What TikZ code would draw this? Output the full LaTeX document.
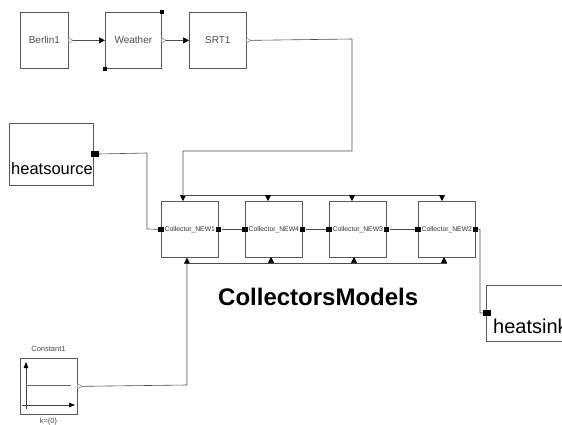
\documentclass[tikz,border=0pt]{standalone}
\usepackage{fontspec}
\setmainfont{Liberation Sans}
\usetikzlibrary{arrows.meta,calc}
\begin{document}
\begin{tikzpicture}[x=1pt,y=-1pt,
  blk/.style={draw=black!65,line width=0.7pt,fill=white,inner sep=0pt,anchor=north west},
  wire/.style={draw=black!70,line width=0.6pt},
  sig/.style={wire,-{Triangle[length=6pt,width=6pt,color=black]}},
  sq/.style={fill=black,minimum width=5.5pt,minimum height=5.5pt,inner sep=0pt},
  bigsq/.style={fill=black,minimum width=8pt,minimum height=6pt,inner sep=0pt},
  outp/.style={draw=black!60,fill=white,line width=0.4pt},
  lbl/.style={font=\fontsize{10}{11}\selectfont,text=black!70},
  clbl/.style={font=\fontsize{6.8}{7}\selectfont,text=black!80,inner sep=0pt},
  axis/.style={draw=black!75,line width=0.5pt,-{Triangle[length=6pt,width=4.5pt,color=black]}}]
\useasboundingbox (0,0) rectangle (562,425);
% top row
\node[blk,minimum width=48pt,minimum height=56pt] (berlin) at (20,12) {};
\node[lbl] at (berlin.center) {Berlin1};
\node[blk,minimum width=56pt,minimum height=56pt] (weather) at (105,12) {};
\node[lbl] at (weather.center) {Weather};
\node[sq,minimum width=4pt,minimum height=4pt] (wtr) at (weather.north east) {};
\node[sq,minimum width=4pt,minimum height=4pt] (wbl) at (weather.south west) {};
\node[blk,minimum width=57pt,minimum height=56pt] (srt) at (189,12) {};
\node[lbl] at (srt.center) {SRT1};
\foreach \n in {berlin,weather,srt}{
  \draw[outp] (\n.east) ++(0,-2.5) -- ++(4,2.5) -- ++(-4,2.5) -- cycle;
  \coordinate (\n-o) at ($(\n.east)+(4,0)$);
}
\draw[sig] (berlin-o) -- (weather.west);
\draw[sig] (weather-o) -- (srt.west);
% heatsource
\node[blk,minimum width=84pt,minimum height=62pt] (hs) at (9,123) {};
\node[anchor=base west,inner sep=0pt,font=\fontsize{16.5}{18}\selectfont] at (11,175) {heatsource};
\node[bigsq] (hsp) at (95,154) {};
% collectors
\foreach \n/\x/\t in {c1/161/Collector\_NEW1,c4/245/Collector\_NEW4,c3/329/Collector\_NEW3,c2/418/Collector\_NEW2}{
  \node[blk,minimum width=57pt,minimum height=56pt] (\n) at (\x,201) {};
  \node[clbl] at (\n.center) {\t};
  \node[sq] (\n-l) at (\n.west) {};
  \node[sq] (\n-r) at (\n.east) {};
}
\draw[wire] (c1-r) -- (c4-l);
\draw[wire] (c4-r) -- (c3-l);
\draw[wire] (c3-r) -- (c2-l);
% SRT to collectors top bus
\coordinate (t1) at (352,39);
\coordinate (t2) at (352,151);
\coordinate (t3) at (183,151);
\draw[sig] (srt-o) -- (t1) -- (t2) -- (t3) -- (c1.north -| t3);
\coordinate (b0) at (183,195);
\coordinate (b1) at (442,195);
\draw[wire] (b0) -- (b1);
\draw[sig] (268,195) -- (268,201);
\draw[sig] (352,195) -- (352,201);
\draw[sig] (b1) -- (442,201);
% bottom bus
\coordinate (u0) at (190,263);
\coordinate (u1) at (447,263);
\draw[wire] (u0) -- (u1);
\draw[sig] (271,263) -- (271,257);
\draw[sig] (354,263) -- (354,257);
\draw[sig] (u1) -- (444,263) -- (444,257);
% heatsource wire
\coordinate (h1) at (147,153);
\coordinate (h2) at (147,229);
\draw[wire] (hsp.east) -- (h1) -- (h2) -- (c1-l.west);
% heatsink
\node[blk,minimum width=90pt,minimum height=56pt] (hk) at (486,285) {};
\node[anchor=base west,inner sep=0pt,font=\fontsize{20}{22}\selectfont] at (493,333) {heatsink};
\node[bigsq] (hkp) at (487,313) {};
\coordinate (k1) at (480,229);
\coordinate (k2) at (480,313);
\draw[wire] (c2-r.east) -- (k1) -- (k2) -- (hkp.west);
% title
\node[anchor=base west,inner sep=0pt,font=\bfseries\fontsize{24}{26}\selectfont] at (218,305) {CollectorsModels};
% constant
\node[blk,minimum width=57pt,minimum height=56pt] (cst) at (20,358) {};
\node[lbl,font=\fontsize{7.5}{8}\selectfont] at (48.5,349) {Constant1};
\node[lbl,font=\fontsize{7.5}{8}\selectfont,anchor=north] at (48.5,415) {k=\{0\}};
\draw[axis] (26,409) -- (26,362);
\draw[axis] (22,405) -- (75,405);
\draw[draw=black!60,line width=0.5pt] (26,385) -- (71,385);
\draw[outp] (cst.east) ++(0,-2.5) -- ++(4,2.5) -- ++(-4,2.5) -- cycle;
\coordinate (cst-o) at ($(cst.east)+(4,0)$);
\coordinate (cs1) at (187,385);
\draw[sig] (cst-o) -- (cs1) -- (cs1 |- c1.south);
\end{tikzpicture}
\end{document}
